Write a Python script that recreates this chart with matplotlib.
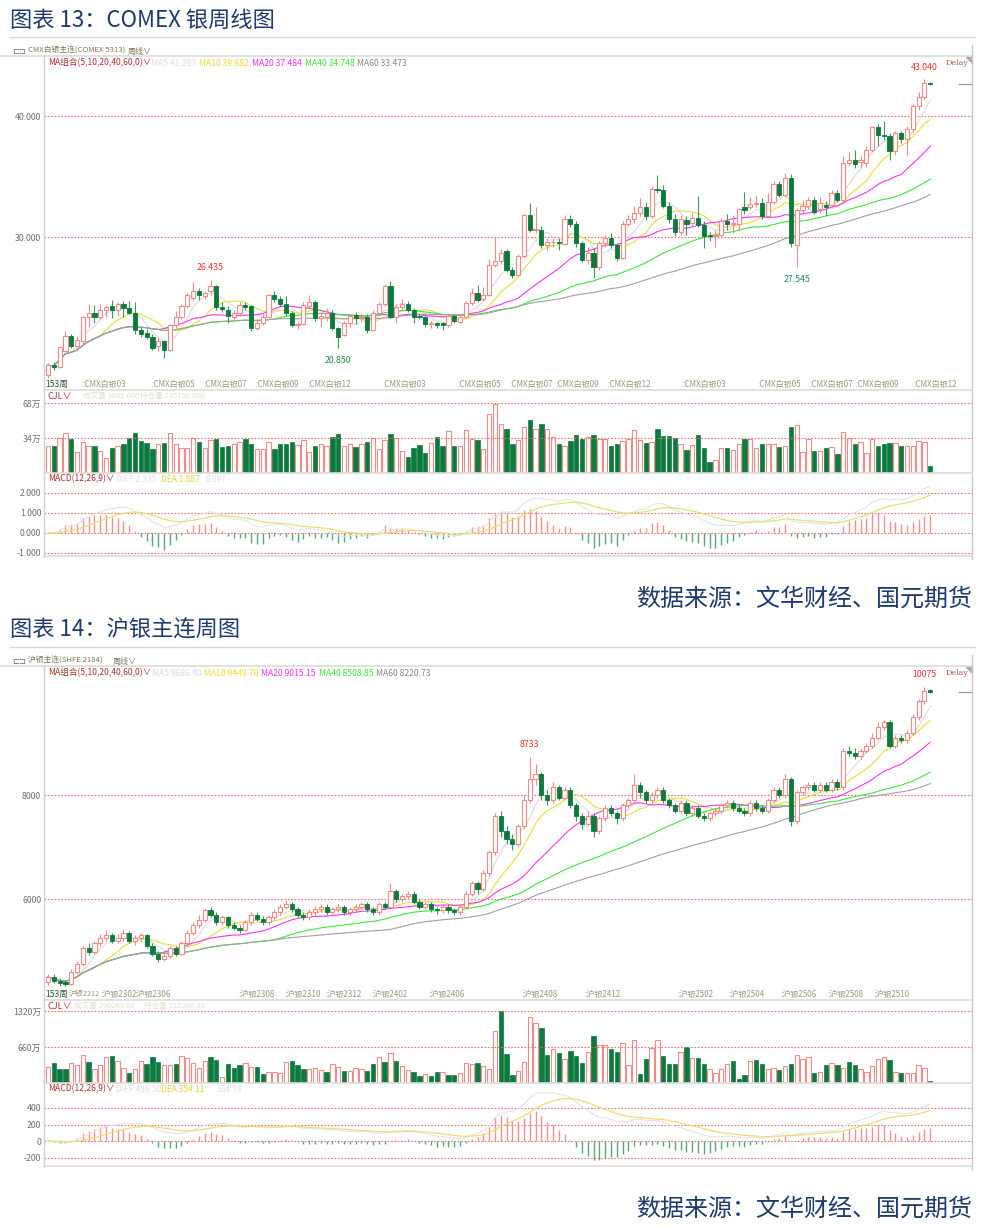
import numpy as np
import pandas as pd
import matplotlib
matplotlib.use("Agg")
import matplotlib.pyplot as plt
from matplotlib.lines import Line2D
from matplotlib.patches import Polygon

plt.rcParams['font.family'] = ['Noto Sans CJK SC', 'DejaVu Sans']

# ---------------- COMEX silver weekly (153 weeks) ----------------
cmx_open = [18.6, 19.45, 19.3, 20.6, 21.8, 21.0, 21.4, 23.4, 23.7, 23.4,
            23.95, 24.3, 24.0, 24.5, 24.1, 23.75, 22.35, 22.1, 21.76, 21.0,
            21.4, 20.7, 22.7, 23.4, 24.3, 25.0, 25.5, 25.15, 25.5, 25.95,
            24.2, 24.0, 23.4, 23.75, 24.4, 24.3, 22.5, 22.9, 23.4, 25.2,
            24.85, 24.5, 23.7, 22.7, 22.8, 24.3, 24.6, 23.3, 23.4, 23.75,
            22.45, 21.9, 22.9, 23.55, 23.42, 23.42, 22.3, 23.75, 24.46, 25.95,
            23.4, 24.25, 24.5, 24.0, 23.47, 23.42, 22.8, 22.92, 22.86, 22.75,
            23.47, 23.0, 23.42, 24.57, 25.4, 24.9, 25.2, 27.7, 28.0, 28.85,
            27.3, 26.9, 28.4, 31.8, 30.6, 30.6, 29.3, 29.55, 29.6, 29.4,
            31.5, 31.1, 29.5, 28.1, 28.7, 27.5, 29.5, 29.9, 29.35, 28.3,
            31.1, 31.5, 31.95, 32.5, 31.75, 34.0, 33.9, 32.6, 31.5, 30.4,
            31.4, 31.2, 31.55, 31.0, 30.15, 30.1, 30.17, 31.35, 31.1, 31.1,
            32.5, 32.5, 32.7, 32.85, 31.75, 32.9, 34.4, 33.5, 34.85, 29.3,
            32.2, 32.55, 33.05, 32.3, 32.65, 32.65, 33.65, 33.1, 36.15, 36.4,
            36.2, 36.15, 37.2, 39.1, 38.45, 38.35, 37.1, 38.6, 38.1, 38.9,
            40.8, 41.55, 42.75]
cmx_close = [19.4, 19.3, 20.9, 21.8, 21.0, 21.5, 23.4, 23.7, 23.4, 23.95,
             24.25, 23.95, 24.5, 24.1, 23.75, 22.35, 22.0, 21.76, 20.8, 21.4,
             20.7, 22.7, 23.4, 24.3, 25.2, 25.5, 25.2, 25.35, 25.95, 24.2,
             24.05, 23.5, 23.75, 24.4, 24.25, 22.5, 22.9, 23.35, 25.2, 24.85,
             24.5, 23.75, 22.75, 22.8, 24.4, 24.6, 23.3, 23.45, 23.75, 22.45,
             21.76, 22.9, 23.45, 23.3, 23.47, 22.3, 23.75, 24.45, 25.95, 23.4,
             24.25, 24.5, 24.0, 23.4, 23.4, 22.8, 22.9, 22.75, 22.7, 23.47,
             23.1, 23.42, 24.57, 25.4, 24.8, 25.2, 27.7, 28.0, 28.7, 27.3,
             26.9, 28.4, 31.8, 30.6, 30.7, 29.3, 29.6, 29.6, 29.5, 31.5,
             31.1, 29.5, 28.1, 28.7, 27.5, 29.5, 29.9, 29.35, 28.3, 31.1,
             31.5, 31.95, 32.5, 31.75, 34.0, 33.9, 32.6, 31.5, 30.4, 31.5,
             31.1, 31.55, 31.0, 30.1, 30.1, 30.15, 31.35, 31.1, 31.2, 32.3,
             32.2, 32.7, 32.85, 31.75, 32.9, 34.4, 33.5, 34.85, 29.5, 32.2,
             32.55, 33.05, 32.1, 32.85, 32.45, 33.65, 33.1, 36.15, 36.4, 36.0,
             36.4, 37.2, 39.1, 38.45, 38.35, 37.1, 38.6, 38.1, 38.9, 40.8,
             41.55, 42.7, 42.65]
cmx_high = [19.6, 19.7, 21.0, 22.2, 22.0, 21.8, 23.5, 24.5, 24.4, 24.5,
            24.4, 24.8, 24.6, 24.7, 24.7, 24.6, 22.6, 22.4, 22.0, 21.7,
            21.5, 22.8, 23.9, 24.5, 25.4, 26.3, 25.8, 25.5, 26.435, 26.0,
            24.6, 24.3, 24.0, 24.6, 24.6, 24.4, 23.2, 23.6, 25.3, 25.5,
            25.1, 25.1, 23.9, 23.0, 24.6, 25.2, 24.8, 23.8, 24.1, 24.0,
            22.6, 23.1, 23.6, 23.8, 23.7, 23.6, 24.0, 24.6, 26.1, 26.4,
            24.5, 24.9, 24.7, 24.1, 23.7, 23.5, 23.1, 23.0, 23.0, 23.7,
            23.6, 23.6, 24.7, 25.8, 26.0, 25.9, 28.2, 30.0, 29.0, 29.0,
            27.5, 28.6, 31.9, 32.8, 32.5, 30.9, 29.9, 29.9, 29.9, 31.8,
            31.8, 31.3, 29.7, 29.2, 29.1, 29.7, 30.2, 30.3, 29.5, 31.3,
            31.8, 32.6, 33.2, 32.9, 34.2, 35.1, 34.3, 32.9, 31.9, 31.8,
            31.7, 32.0, 33.4, 31.3, 30.4, 30.6, 31.6, 31.9, 31.8, 32.4,
            33.7, 33.3, 33.5, 33.2, 33.6, 34.6, 34.6, 35.3, 35.2, 32.4,
            33.1, 33.3, 33.3, 33.3, 33.0, 33.9, 33.9, 36.7, 37.0, 37.2,
            36.7, 37.5, 39.2, 39.3, 39.6, 38.6, 38.8, 38.8, 39.2, 41.0,
            42.0, 43.04, 42.8]
cmx_low = [18.2, 19.0, 19.2, 20.5, 20.8, 20.8, 21.2, 22.6, 22.9, 23.2,
           23.4, 23.3, 23.5, 23.4, 23.6, 22.0, 21.7, 21.6, 20.7, 20.6,
           19.97, 20.6, 22.5, 23.2, 24.1, 24.8, 24.8, 24.9, 25.2, 24.0,
           23.8, 22.9, 23.2, 23.5, 24.0, 22.2, 22.3, 22.7, 23.3, 24.6,
           24.3, 23.5, 22.6, 22.4, 22.7, 24.1, 23.1, 22.6, 23.1, 22.3,
           20.85, 21.8, 22.6, 22.8, 23.1, 22.1, 22.2, 23.6, 24.3, 23.3,
           22.9, 24.0, 23.8, 22.9, 23.2, 22.6, 22.5, 22.5, 22.3, 22.6,
           22.9, 22.9, 23.3, 24.4, 24.6, 24.7, 25.1, 27.5, 27.8, 27.1,
           26.6, 26.8, 28.3, 30.4, 30.3, 29.1, 28.9, 29.2, 28.9, 29.3,
           30.8, 29.2, 27.9, 27.8, 26.6, 27.3, 29.2, 29.1, 28.0, 28.2,
           30.9, 31.2, 31.7, 31.4, 31.6, 33.6, 32.4, 31.2, 30.1, 30.2,
           30.2, 31.0, 30.8, 29.1, 29.7, 29.2, 29.9, 30.6, 30.3, 30.5,
           31.9, 32.3, 32.5, 31.5, 31.6, 32.7, 33.3, 33.3, 29.2, 27.545,
           31.9, 32.3, 31.9, 32.0, 31.7, 32.4, 32.9, 32.9, 35.9, 35.7,
           35.8, 35.8, 37.0, 37.5, 38.0, 36.4, 36.8, 37.8, 36.8, 38.7,
           40.5, 41.4, 42.6]
cmx_vol = [26.4, 26.4, 34.3, 38.8, 33.4, 20.0, 30.2, 26.4, 26.4, 21.3,
           15.0, 23.9, 26.4, 28.0, 34.0, 39.1, 31.5, 29.3, 23.2, 27.7,
           29.6, 39.1, 27.7, 23.9, 23.9, 34.3, 29.9, 23.9, 31.8, 33.1,
           25.1, 26.7, 28.6, 30.5, 33.1, 28.6, 23.2, 23.2, 30.2, 22.9,
           27.7, 28.0, 30.5, 27.3, 31.8, 20.4, 25.8, 27.7, 26.4, 34.7,
           37.5, 26.4, 27.7, 25.1, 27.7, 30.2, 34.0, 23.2, 31.8, 37.8,
           34.0, 21.0, 15.3, 23.9, 27.0, 19.4, 29.3, 34.7, 26.4, 41.0,
           26.4, 26.4, 42.0, 33.4, 31.8, 22.9, 57.2, 66.8,
           47.7, 42.9, 28.6, 31.8, 44.5, 51.2, 42.9, 47.7, 42.9, 34.7,
           28.6, 26.4, 31.5, 36.6, 33.4, 34.7, 37.2, 32.8, 33.4, 26.7,
           28.0, 31.5, 32.8, 42.0, 32.4, 29.6, 30.5, 42.6, 36.3, 35.6,
           33.7, 28.3, 22.3, 27.0, 36.9, 23.9, 10.2, 13.0, 23.9, 24.2,
           22.0, 27.7, 32.8, 33.4, 23.9, 28.3, 28.0, 28.6, 24.8, 26.4,
           44.5, 46.4, 20.7, 32.8, 21.6, 21.0, 23.9, 25.1, 18.4, 39.8,
           34.3, 27.7, 30.2, 19.7, 33.4, 26.7, 28.6, 28.9, 29.3, 26.7,
           25.8, 25.8, 31.5, 30.2, 6.4]
cmx_tick_pos = [6, 18, 27, 36, 45, 58, 71, 80, 88, 97, 110, 123, 132, 140, 150]
cmx_tick_lab = [":CMX白银03", ":CMX白银05", ":CMX白银07", ":CMX白银09", ":CMX白银12",
                ":CMX白银03", ":CMX白银05", ":CMX白银07", ":CMX白银09", ":CMX白银12",
                ":CMX白银03", ":CMX白银05", ":CMX白银07", ":CMX白银09", ":CMX白银12"]

# ---------------- SHFE silver weekly (153 weeks) ----------------
ag_open = [4400, 4500, 4430, 4400, 4370, 4600, 4750, 5050, 4980, 5150,
           5250, 5300, 5200, 5250, 5350, 5200, 5250, 5300, 5100, 4950,
           4850, 4900, 5050, 4950, 5150, 5350, 5500, 5600, 5780, 5700,
           5550, 5650, 5500, 5450, 5400, 5550, 5700, 5620, 5550, 5650,
           5750, 5850, 5900, 5800, 5700, 5650, 5750, 5800, 5850, 5750,
           5800, 5850, 5750, 5800, 5850, 5900, 5800, 5750, 5900, 5850,
           6150, 6000, 6050, 6100, 5950, 5850, 5900, 5800, 5780, 5850,
           5780, 5750, 5850, 6100, 6300, 6200, 6500, 6900, 7600, 7300,
           7150, 7050, 7400, 7900, 8300, 8400, 8000, 7900, 8150, 7950,
           8100, 7800, 7600, 7450, 7600, 7300, 7550, 7750, 7650, 7550,
           7800, 7900, 8200, 8050, 7900, 8000, 8100, 7900, 7800, 7700,
           7850, 7650, 7750, 7600, 7550, 7650, 7700, 7800, 7850, 7750,
           7700, 7650, 7850, 7750, 7700, 7900, 8100, 8000, 8300, 7500,
           8050, 8150, 8200, 8100, 8200, 8100, 8250, 8150, 8850, 8800,
           8750, 8850, 8950, 9100, 9300, 9400, 8950, 9100, 9050, 9200,
           9500, 9800, 10010]
ag_close = [4500, 4420, 4380, 4370, 4600, 4750, 5050, 4980, 5150, 5250,
            5300, 5200, 5250, 5350, 5200, 5250, 5300, 5100, 4950, 4850,
            4900, 5050, 4950, 5150, 5350, 5500, 5600, 5780, 5700, 5550,
            5650, 5500, 5450, 5400, 5550, 5700, 5620, 5550, 5650, 5750,
            5850, 5900, 5800, 5700, 5650, 5750, 5800, 5850, 5750, 5800,
            5850, 5750, 5800, 5850, 5900, 5800, 5750, 5900, 5850, 6150,
            6000, 6050, 6100, 5950, 5850, 5900, 5800, 5780, 5850, 5780,
            5750, 5850, 6100, 6300, 6200, 6500, 6900, 7600, 7300, 7150,
            7050, 7400, 7900, 8300, 8400, 8000, 7900, 8150, 7950, 8100,
            7800, 7600, 7450, 7600, 7300, 7550, 7750, 7650, 7550, 7800,
            7900, 8200, 8050, 7900, 8000, 8100, 7900, 7800, 7700, 7850,
            7650, 7750, 7600, 7550, 7650, 7700, 7800, 7850, 7750, 7700,
            7650, 7850, 7750, 7700, 7900, 8100, 8000, 8300, 7500, 8050,
            8150, 8200, 8100, 8200, 8100, 8250, 8150, 8850, 8800, 8750,
            8850, 8950, 9100, 9300, 9400, 8950, 9100, 9050, 9200, 9500,
            9800, 10000, 9990]
ag_high = [4550, 4560, 4480, 4450, 4650, 4800, 5100, 5150, 5200, 5320,
           5400, 5350, 5320, 5420, 5380, 5300, 5350, 5330, 5150, 5000,
           4950, 5100, 5100, 5200, 5400, 5550, 5700, 5820, 5850, 5750,
           5700, 5680, 5550, 5500, 5600, 5750, 5760, 5680, 5700, 5800,
           5900, 5980, 5950, 5850, 5750, 5800, 5860, 5900, 5900, 5850,
           5900, 5880, 5850, 5900, 5950, 5950, 5850, 5950, 5950, 6300,
           6200, 6100, 6150, 6150, 6000, 5950, 5950, 5850, 5900, 5900,
           5820, 5900, 6150, 6350, 6350, 6550, 6950, 7650, 7700, 7400,
           7250, 7450, 8000, 8733, 8600, 8450, 8100, 8250, 8200, 8150,
           8150, 7850, 7650, 7700, 7650, 7600, 7800, 7800, 7700, 7850,
           7950, 8400, 8250, 8100, 8050, 8150, 8150, 7950, 7850, 7900,
           7900, 7800, 7800, 7650, 7700, 7750, 7850, 7900, 7900, 7800,
           7750, 7900, 7900, 7800, 7950, 8150, 8150, 8400, 8350, 8100,
           8200, 8250, 8250, 8250, 8250, 8300, 8300, 8900, 8950, 8900,
           8900, 9000, 9200, 9400, 9450, 9450, 9150, 9150, 9250, 9550,
           9850, 10075, 10030]
ag_low = [4350, 4380, 4330, 4320, 4350, 4560, 4720, 4930, 4950, 5100,
          5200, 5150, 5150, 5200, 5150, 5120, 5180, 5050, 4900, 4780,
          4800, 4870, 4900, 4920, 5100, 5300, 5450, 5550, 5650, 5500,
          5500, 5450, 5400, 5350, 5380, 5500, 5580, 5500, 5500, 5600,
          5700, 5800, 5750, 5650, 5600, 5600, 5700, 5750, 5700, 5700,
          5750, 5700, 5700, 5750, 5800, 5750, 5700, 5700, 5800, 5820,
          5950, 5950, 6000, 5900, 5800, 5800, 5750, 5720, 5730, 5730,
          5700, 5700, 5800, 6050, 6100, 6150, 6450, 6850, 7200, 7050,
          6950, 7000, 7350, 7850, 8200, 7900, 7800, 7850, 7900, 7900,
          7750, 7500, 7350, 7400, 7200, 7250, 7500, 7600, 7450, 7500,
          7750, 7850, 7950, 7850, 7850, 7950, 7850, 7750, 7650, 7650,
          7600, 7600, 7550, 7500, 7500, 7600, 7650, 7750, 7700, 7650,
          7600, 7600, 7700, 7650, 7650, 7850, 7950, 7950, 7400, 7450,
          8000, 8100, 8050, 8050, 8050, 8050, 8100, 8100, 8750, 8700,
          8700, 8800, 8900, 9050, 9250, 8900, 8900, 9000, 9000, 9150,
          9450, 9750, 9960]
ag_vol = [293, 360, 257, 257, 360, 336, 513, 385, 250, 330,
          477, 501, 409, 275, 189, 250, 397, 354, 477, 385,
          324, 330, 354, 489, 458, 367, 275, 409, 470, 415,
          116, 348, 275, 330, 360, 293, 293, 159, 202, 202,
          183, 385, 409, 324, 263, 263, 275, 232, 208, 348,
          299, 214, 214, 275, 263, 214, 348, 477, 385, 544,
          403, 312, 238, 208, 122, 165, 134, 202, 202, 153,
          147, 177, 367, 354, 360, 312, 263, 959,
          1314, 532, 141, 220, 385, 1216, 1100, 1008, 513, 629,
          544, 446, 587, 489, 373, 562, 862, 697, 697, 629,
          562, 727, 336, 788, 171, 440, 642, 794, 489, 354,
          354, 574, 666, 464, 458, 342, 257, 183, 250, 348,
          397, 79, 153, 409, 415, 348, 250, 281, 238, 318,
          348, 513, 446, 483, 177, 202, 336, 373, 330, 275,
          391, 336, 257, 208, 318, 446, 483, 428, 202, 189,
          177, 183, 336, 275, 37]
ag_tick_pos = [3.6, 9, 15, 33, 41, 48, 56, 66, 82, 93, 109, 118, 127, 135, 143]
ag_tick_lab = ["沪银2212", ":沪银2302", ":沪银2306", ":沪银2308", ":沪银2310",
               ":沪银2312", ":沪银2402", ":沪银2406", ":沪银2408", ":沪银2412",
               ":沪银2502", ":沪银2504", ":沪银2506", ":沪银2508", ":沪银2510"]

W, H = 982, 1226
fig = plt.figure(figsize=(W / 100, H / 100), dpi=100)

UP = '#f28a8a'
DN = '#0b7a3c'
GRID = '#f07070'
BLUE = '#1f3a6e'
MA_COLORS = ['#dcdcdc', '#e8df3a', '#ff30ff', '#3ce83c', '#a0a0a0']


def px_axes(x0, y0, x1, y1):
    ax = fig.add_axes([x0 / W, 1 - y1 / H, (x1 - x0) / W, (y1 - y0) / H])
    for s in ax.spines.values():
        s.set_visible(False)
    ax.set_xticks([])
    ax.patch.set_alpha(0)
    return ax


def ftext(x, y, s, **kw):
    kw.setdefault('va', 'center')
    fig.text(x / W, 1 - y / H, s, **kw)


def fline(x0, y0, x1, y1, color='#d0d0d0', lw=1.0):
    fig.add_artist(Line2D([x0 / W, x1 / W], [1 - y0 / H, 1 - y1 / H],
                          color=color, lw=lw))


def yticks(ax, vals, labs):
    ax.set_yticks(vals)
    ax.set_yticklabels(labs)
    ax.tick_params(axis='y', length=0, pad=2, labelsize=6.3,
                   labelcolor='#707070')
    for v in vals:
        ax.axhline(v, color=GRID, lw=0.8, ls=(0, (1.5, 1.5)))


def draw_chart(base, title, header, ma_vals, O, C, Hi, Lo, vol, ylim, yt, ytl,
               vlim, vt, vtl, vol_head, mlim, mt, mtl, macd_head, tick_pos,
               tick_lab, hi_lab, lo_labs, fmt):
    O, C, Hi, Lo = map(np.array, (O, C, Hi, Lo))
    n = len(C)
    x = np.arange(n)
    xlim = (-0.69, 159.2)
    up = C >= O

    ftext(10, base - 17, title, fontsize=16, color=BLUE)
    fline(10, base, 975, base, '#d8d8d8')
    ftext(12, base + 14, '⊏⊐', fontsize=6, color='#666666', family='DejaVu Sans')
    ftext(28, base + 14, header[0], fontsize=5.6, color='#7a7a50')
    ftext(header[1], base + 14, '周线∨', fontsize=5.8, color='#7a7a50')
    fline(0, base + 19, 972, base + 19, '#dcdcdc', 1.2)
    fline(44, base + 19, 44, base + 520, '#d0d0d0')
    fline(972, base + 8, 972, base + 522, '#c8c8c8')
    fig.add_artist(Polygon([[966 / W, 1 - (base + 20) / H], [972 / W, 1 - (base + 20) / H],
                            [972 / W, 1 - (base + 26) / H]], closed=True,
                           color='#aaaaaa', transform=fig.transFigure))

    # ----- main price panel -----
    ax = px_axes(44, base + 19, 972, base + 341)
    ax.set_xlim(*xlim)
    ax.set_ylim(*ylim)
    yticks(ax, yt, ytl)
    s = pd.Series(C)
    for per, col in zip([5, 10, 20, 40, 60], MA_COLORS):
        ax.plot(x, s.rolling(per, min_periods=1).mean(), color=col, lw=0.8)
    top = np.maximum(O, C)
    bot = np.minimum(O, C)
    hgt = np.maximum(top - bot, (ylim[1] - ylim[0]) * 0.002)
    ax.vlines(x[up], Lo[up], bot[up], color=UP, lw=0.8)
    ax.vlines(x[up], top[up], Hi[up], color=UP, lw=0.8)
    ax.vlines(x[~up], Lo[~up], Hi[~up], color='#3a9a5c', lw=0.8)
    ax.bar(x[up], hgt[up], bottom=bot[up], width=0.72, facecolor='white',
           edgecolor=UP, lw=0.8, zorder=3)
    ax.bar(x[~up], hgt[~up], bottom=bot[~up], width=0.72, facecolor=DN,
           edgecolor=DN, lw=0.6, zorder=3)
    ih = int(np.argmax(Hi))
    ax.annotate(fmt.format(Hi[ih]), (ih, Hi[ih]), xytext=(0, 7),
                textcoords='offset points', ha='center', fontsize=6.3,
                color='#f03030')
    for k in hi_lab:
        ax.annotate(fmt.format(Hi[k]), (k, Hi[k]), xytext=(0, 7),
                    textcoords='offset points', ha='center', fontsize=6.3,
                    color='#f03030')
    for k in lo_labs:
        ax.annotate(fmt.format(Lo[k]), (k, Lo[k]), xytext=(0, -11),
                    textcoords='offset points', ha='center', fontsize=6.3,
                    color='#1e8a4a')
    # last price marker on the right edge
    ax.plot([xlim[1] - 2.3, xlim[1]], [C[-1], C[-1]], color='#999999', lw=0.9,
            clip_on=False)

    # MA legend
    ftext(48, base + 26, 'MA组合(5,10,20,40,60,0)∨', fontsize=6.2, color='#b03030')
    names = ['MA5', 'MA10', 'MA20', 'MA40', 'MA60']
    for (xp, v), nm, col in zip(ma_vals, names, MA_COLORS):
        ftext(xp, base + 26, f'{nm} {v}', fontsize=6.2,
              color=col if nm != 'MA60' else '#888888')
    ftext(946, base + 26, 'Delay', fontsize=5.8, color='#b06050', family='DejaVu Serif')

    # time axis labels
    ftext(45, base + 347, '153周', fontsize=6.2, color='#2f5a33')
    for k, (p, lab) in enumerate(zip(tick_pos, tick_lab)):
        xp = 48 + p * 5.77
        ftext(xp, base + 347, lab, fontsize=5.3 if p % 1 else 5.8,
              color='#9a9a7a')
    fline(44, base + 353, 972, base + 353, '#dcdcdc', 1.2)

    # ----- volume panel -----
    av = px_axes(44, base + 353, 972, base + 436)
    av.set_xlim(*xlim)
    av.set_ylim(*vlim)
    yticks(av, vt, vtl)
    vol = np.array(vol)
    av.bar(x[up], vol[up], width=0.75, facecolor='white', edgecolor=UP, lw=0.8)
    av.bar(x[~up], vol[~up], width=0.75, facecolor=DN, edgecolor=DN, lw=0.5)
    ftext(48, base + 359, 'CJL∨', fontsize=6.5, color='#b03030')
    ftext(vol_head[0][0], base + 359, vol_head[0][1], fontsize=5.5, color='#e2e2d0')
    ftext(vol_head[1][0], base + 359, vol_head[1][1], fontsize=5.5, color='#e2e2d0')
    fline(44, base + 436, 972, base + 436, '#dcdcdc', 1.2)

    # ----- MACD panel -----
    am = px_axes(44, base + 436, 972, base + 519)
    am.set_xlim(*xlim)
    am.set_ylim(*mlim)
    yticks(am, mt, mtl)
    ema12 = s.ewm(span=12, adjust=False).mean()
    ema26 = s.ewm(span=26, adjust=False).mean()
    diff = ema12 - ema26
    dea = diff.ewm(span=9, adjust=False).mean()
    hist = 2 * (diff - dea)
    pos = hist >= 0
    am.vlines(x[pos], 0, hist[pos], color='#f59090', lw=1.0)
    am.vlines(x[~pos], 0, hist[~pos], color='#5aa878', lw=1.0)
    am.plot(x, diff, color='#e4e4e4', lw=0.8)
    am.plot(x, dea, color='#e8e070', lw=0.9)
    ftext(48, base + 442, 'MACD(12,26,9)∨', fontsize=6.2, color='#b03030')
    ftext(macd_head[0][0], base + 442, macd_head[0][1], fontsize=6.0, color='#e0e0e0')
    ftext(macd_head[1][0], base + 442, macd_head[1][1], fontsize=6.0, color='#e0d640')
    ftext(macd_head[2][0], base + 442, macd_head[2][1], fontsize=6.0, color='#e0e0e0')
    fline(44, base + 519, 972, base + 519, '#dcdcdc', 1.2)

    ftext(972, base + 562, '数据来源：文华财经、国元期货', fontsize=17.3,
          color=BLUE, ha='right')


draw_chart(37, '图表 13：COMEX 银周线图', ('CMX白银主连(COMEX 5313)', 128),
           [(151, '41.287'), (199, '39.682'), (252, '37.484'), (305, '34.748'),
            (357, '33.473')],
           cmx_open, cmx_close, cmx_high, cmx_low, cmx_vol,
           (18.35, 44.96), [30, 40], ['30.000', '40.000'],
           (0, 80.6), [34, 68], ['34万', '68万'],
           [(83, '成交量 3665.000'), (140, '持仓量 135156.000')],
           (-1.15, 3.0), [-1, 0, 1, 2], ['-1.000', '0.000', '1.000', '2.000'],
           [(116, 'DIFF 2.335'), (161, 'DEA 1.887'), (206, '0.897')],
           cmx_tick_pos, cmx_tick_lab, [28], [50, 129], '{:.3f}')

draw_chart(647, '图表 14：沪银主连周图', ('沪银主连(SHFE 2184)', 113),
           [(152, '9686.40'), (204, '9449.70'), (261, '9015.15'), (319, '8508.85'),
            (376, '8220.73')],
           ag_open, ag_close, ag_high, ag_low, ag_vol,
           (4289, 10481), [6000, 8000], ['6000', '8000'],
           (0, 1522), [660, 1320], ['660万', '1320万'],
           [(74, '成交量 290269.00'), (144, '持仓量 212260.00')],
           (-303, 703), [-200, 0, 200, 400], ['-200', '0', '200', '400'],
           [(116, 'DIFF 436.50'), (161, 'DEA 354.11'), (216, '164.79')],
           ag_tick_pos, ag_tick_lab, [83], [], '{:.0f}')

fig.savefig('out.png', dpi=100)
